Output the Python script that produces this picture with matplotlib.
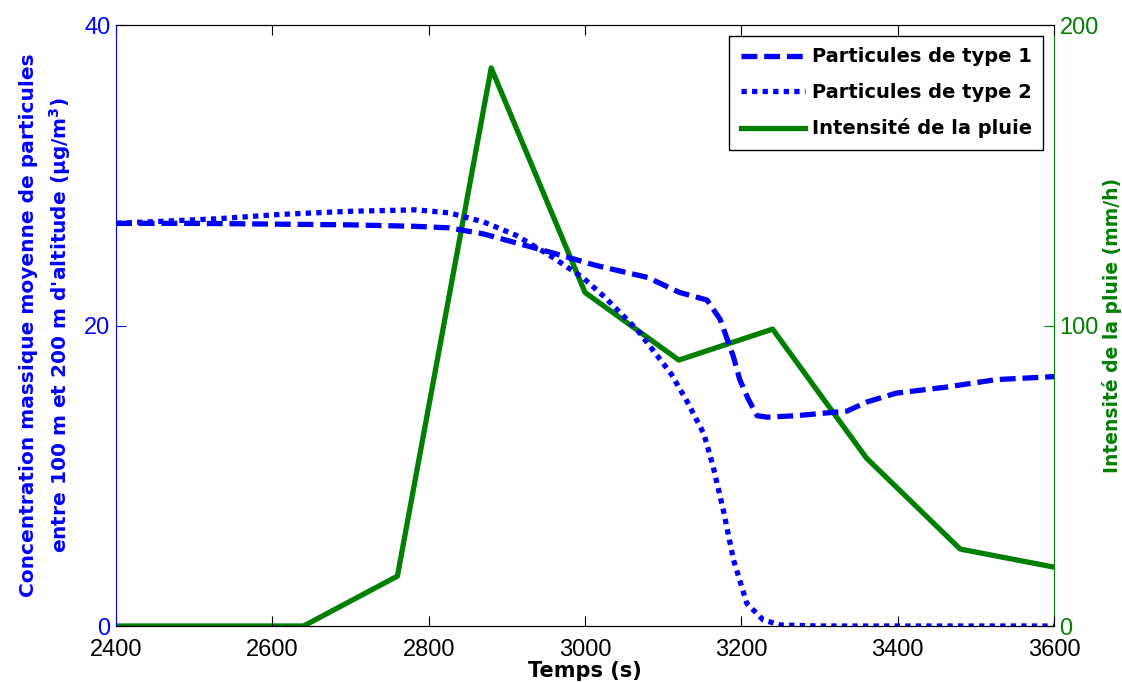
import matplotlib.pyplot as plt

# Données
temps_p1 = [2400, 2500, 2600, 2700, 2784, 2826, 2870, 2912, 2954, 3014, 3080, 3121,
            3156, 3173, 3190, 3198, 3208, 3220, 3233, 3271, 3313, 3335, 3360, 3398,
            3462, 3526, 3600]
type1 = [26.8, 26.8, 26.75, 26.7, 26.6, 26.5, 26.1, 25.5, 24.9, 24.0, 23.2, 22.2,
         21.7, 20.4, 17.9, 16.4, 15.2, 14.0, 13.9, 14.0, 14.2, 14.3, 14.9, 15.5,
         15.9, 16.4, 16.6]

temps_p2 = [2400, 2528, 2612, 2698, 2784, 2826, 2870, 2912, 2954, 2997, 3025, 3067,
            3110, 3130, 3152, 3164, 3177, 3190, 3207, 3228, 3250, 3300, 3400, 3500, 3600]
type2 = [26.8, 27.1, 27.4, 27.6, 27.7, 27.5, 26.9, 26.0, 24.7, 23.2, 21.9, 19.7,
         16.8, 15.0, 12.8, 10.6, 7.7, 4.4, 1.5, 0.4, 0.07, 0.0, 0.0, 0.0, 0.0]

temps_pluie = [2400, 2640, 2760, 2880, 3000, 3120, 3240, 3360, 3480, 3600]
pluie = [0, 0, 16.6, 185.7, 111, 88.5, 98.8, 55.9, 25.6, 19.6]

bleu = '#0000ff'
vert = '#007f00'

plt.rcParams['font.family'] = ['Liberation Sans', 'DejaVu Sans']

fig = plt.figure(figsize=(11.22, 6.82), dpi=100)
ax1 = fig.add_axes([0.1034, 0.0821, 0.836, 0.8812])
ax2 = ax1.twinx()

l1, = ax1.plot(temps_p1, type1, color=bleu, lw=3.8, ls=(0, (3, 1.3)),
               label='Particules de type 1')
l2, = ax1.plot(temps_p2, type2, color=bleu, lw=3.8, ls=(0, (1, 1)),
               label='Particules de type 2')
l3, = ax2.plot(temps_pluie, pluie, color=vert, lw=3.8, label='Intensité de la pluie')
ax1.set_zorder(ax2.get_zorder() + 1)
ax1.patch.set_visible(False)

ax1.set_xlim(2400, 3600)
ax1.set_ylim(0, 40)
ax2.set_ylim(0, 200)
ax1.set_xticks(range(2400, 3601, 200))
ax1.set_yticks([0, 20, 40])
ax2.set_yticks([0, 100, 200])

ax1.tick_params(axis='x', direction='in', top=True, labelsize=17, colors='black', length=7, pad=9)
ax1.tick_params(axis='y', direction='in', labelsize=17, colors=bleu, length=7, pad=4)
ax2.tick_params(axis='y', direction='in', labelsize=17, colors=vert, length=7, pad=4)

ax1.spines['left'].set_color(bleu)
ax1.spines['right'].set_visible(False)
ax2.spines['right'].set_color(vert)
ax2.spines['left'].set_visible(False)
ax2.spines['top'].set_color('black')
ax2.spines['bottom'].set_color('black')

fb = ['DejaVu Sans']
ax1.set_xlabel('Temps (s)', fontsize=15, fontweight='bold', family=fb, labelpad=0)
ax1.set_ylabel('Concentration massique moyenne de particules\n'
               "entre 100 m et 200 m d'altitude (µg/m$^\\mathbf{3}$)",
               fontsize=14.5, fontweight='bold', family=fb, color=bleu,
               labelpad=8, linespacing=1.45)
ax2.set_ylabel('Intensité de la pluie (mm/h)', fontsize=13.5, fontweight='bold',
               family=fb, color=vert, labelpad=2)

leg = ax1.legend(handles=[l1, l2, l3], loc='upper right', fancybox=False,
                 edgecolor='black', framealpha=1, handlelength=3.3, handletextpad=0.35,
                 prop={'family': fb, 'weight': 'bold', 'size': 14},
                 borderaxespad=0.55, labelspacing=0.85, borderpad=0.6)
leg.get_frame().set_linewidth(1.0)

fig.savefig('out.png', dpi=100)
